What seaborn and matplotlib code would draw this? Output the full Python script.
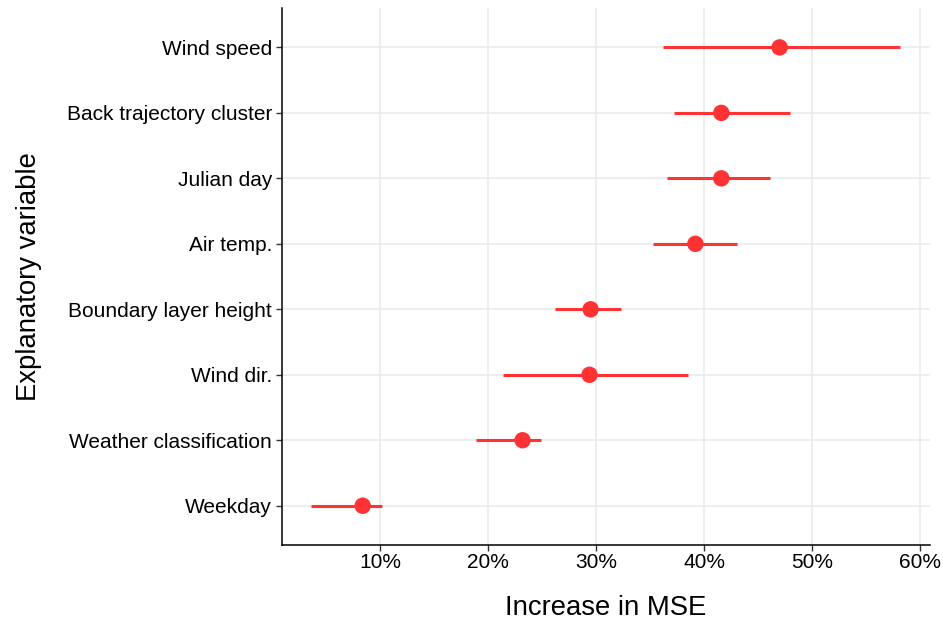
import matplotlib
matplotlib.use("Agg")
import matplotlib.pyplot as plt
import seaborn as sns
import pandas as pd
from matplotlib.ticker import FuncFormatter, MultipleLocator

# Variable importance (% increase in MSE) with lower/upper bounds
variables = ["Wind speed", "Back trajectory cluster", "Julian day", "Air temp.",
             "Boundary layer height", "Wind dir.", "Weather classification", "Weekday"]
importance = [47.0, 41.6, 41.6, 39.2, 29.5, 29.4, 23.2, 8.4]
lower = [36.2, 37.2, 36.6, 35.25, 26.2, 21.4, 18.9, 3.65]
upper = [58.1, 48.0, 46.15, 43.07, 32.3, 38.5, 24.9, 10.2]

df = pd.DataFrame({"variable": variables, "mse": importance,
                   "lo": lower, "hi": upper})

sns.set_theme(style="white")
plt.rcParams["font.family"] = ["Liberation Sans", "DejaVu Sans"]

red = "#FF3333"
fig = plt.figure(figsize=(9.43, 6.25), dpi=100)
ax = fig.add_axes([0.299, 0.128, 0.687, 0.859])

ax.hlines(df["variable"], df["lo"], df["hi"], color=red, linewidth=2.2, zorder=3)
sns.scatterplot(data=df, x="mse", y="variable", ax=ax, color=red, s=140,
                edgecolor="none", zorder=4, legend=False)

ax.set_ylim(len(variables) - 0.4, -0.6)
ax.set_xlim(0.93, 60.9)
ax.xaxis.set_major_locator(MultipleLocator(10))
ax.xaxis.set_major_formatter(FuncFormatter(lambda v, p: f"{v:.0f}%"))

ax.grid(True, color="#ebebeb", linewidth=1.2, zorder=0)
ax.set_axisbelow(True)
for side in ["top", "right"]:
    ax.spines[side].set_visible(False)
for side in ["left", "bottom"]:
    ax.spines[side].set_color("black")
    ax.spines[side].set_linewidth(1.1)

ax.tick_params(axis="both", which="major", length=4, width=1, color="#333333",
               labelsize=15, labelcolor="black", bottom=True, left=True, pad=3)
ax.tick_params(axis="x", pad=1.5)

ax.set_xlabel("Increase in MSE", fontsize=19.8, labelpad=17, color="black")
ax.set_ylabel("Explanatory variable", fontsize=19.8, color="black")
ax.yaxis.set_label_coords(-0.37, 0.5)

fig.savefig("out.png", dpi=100, facecolor="white")
